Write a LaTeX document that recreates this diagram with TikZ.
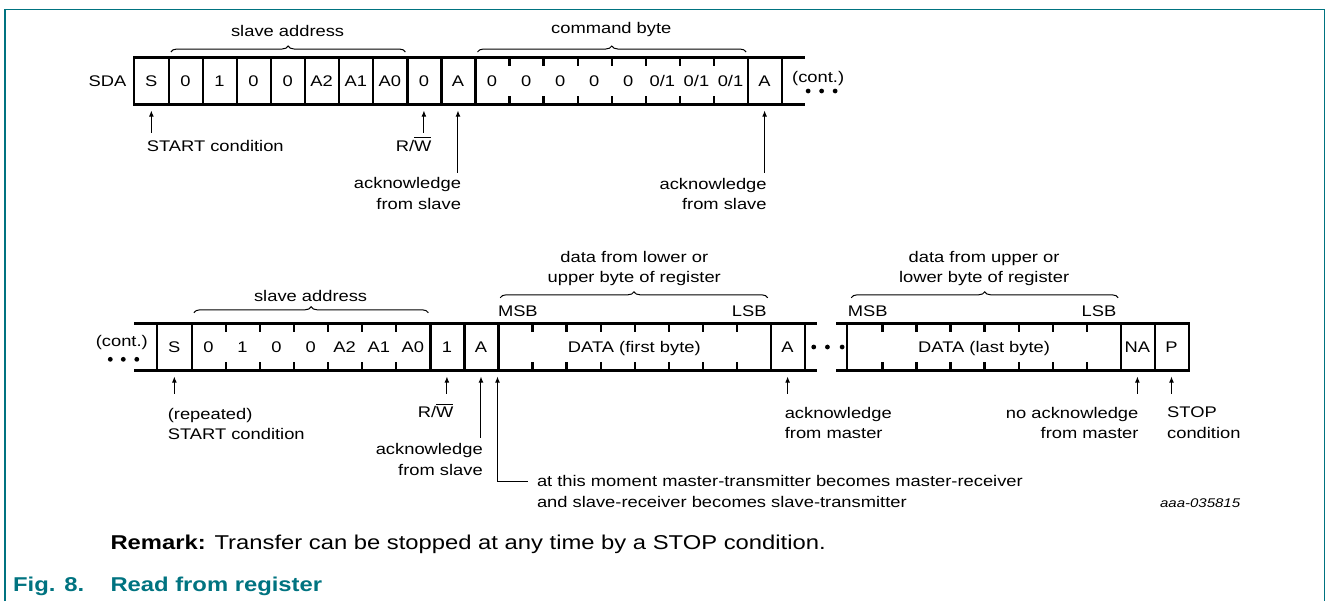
\documentclass[tikz,border=0pt]{standalone}
\usepackage{fontspec}
\setmainfont[FakeStretch=1.19]{Liberation Sans}
\usepackage{tikz}
\usetikzlibrary{calc,arrows.meta,decorations.pathreplacing,positioning}
\definecolor{figteal}{RGB}{0,115,128}

\begin{document}
\begin{tikzpicture}[x=0.5pt,y=-0.5pt,line width=0.5pt]
\fontsize{7.7}{10.2}\selectfont
\tikzstyle{txt}=[inner sep=0pt, text height=5.5pt, text depth=0pt]
\tikzstyle{cell}=[txt, minimum width=17.035pt, minimum height=23pt]
\tikzstyle{wire}=[line width=1.15pt, line cap=rect]
\tikzstyle{pin}=[-{Latex[length=3pt,width=2.4pt]}]
\tikzstyle{brc}=[decorate, decoration={brace,amplitude=3pt}]
\tikzstyle{note}=[inner sep=0pt]
\useasboundingbox (0,0) rectangle (1326,601);
\draw[figteal, line width=0.75pt] (5,601) -- (5,9.3) -- (1324.7,9.3) -- (1324.7,601);

\foreach \lab [count=\i] in {S,0,1,0,0,A2,A1,A0,0,A,0,0,0,0,0,{0/1},{0/1},{0/1},A}
    \node[cell] (t\i) at (117.265+34.07*\i,81) {\lab};
\draw[wire] (t1.north west) -- ($(t19.north east)+(22,0)$) (t1.south west) -- ($(t19.south east)+(22,0)$);
\draw[wire] (t1.north west) -- (t1.south west);
\foreach \i in {1,2,3,4,5,6,7,8,9,10,18,19}
    \draw[wire] (t\i.north east) -- (t\i.south east);
\foreach \i in {11,...,17}
    \draw[wire] (t\i.north east) -- ++(0,7) (t\i.south east) -- ++(0,-7);
\node[txt, left=3.5pt of t1] (sda) {SDA};
\node[txt] (cont1) at ($(t19.east)+(36,-4)$) {(cont.)};
\foreach \d in {-10,3.5,17}
    \fill ($(cont1)+(\d,14)$) circle (1.2pt);

\draw[brc] ($(t2.north west)+(3,-5.5)$) -- ($(t8.north east)+(-2,-5.5)$);
\node[txt] (sa1) at ($(t2.north west)!0.5!(t8.north east)+(0,-27)$) {slave address};
\draw[brc] ($(t11.north west)+(3,-5.5)$) -- ($(t18.north east)+(-2,-5.5)$);
\node[txt] (cb1) at ($(t11.north west)!0.5!(t18.north east)+(0,-30)$) {command byte};

\foreach \i/\len in {1/28,9/28,10/68,19/68}
    \draw[pin] ($(t\i.south)+(0,\len)$) -- ($(t\i.south)+(0,6)$);
\node[note, anchor=base west] (st1) at ($(t1.south)+(-5,46.5)$) {START condition};
\node[note, anchor=base east] (rw1) at ($(t9.south)+(8,46.5)$) {R/$\overline{\mbox{W}}$};
\node[note, anchor=north east, align=right] (ak1) at ($(t10.south)+(3.5,72.5)$) {acknowledge\\from slave};
\node[note, anchor=north east, align=right] (ak2) at ($(t19.south)+(2.5,73)$) {acknowledge\\from slave};

\foreach \lab [count=\i] in {S,0,1,0,0,A2,A1,A0,1,A,{},{},{},{},{},{},{},{},A}
    \node[cell] (b\i) at (140.265+34.07*\i,347) {\lab};
\node[txt] (d1) at ($(b11)!0.5!(b18)$) {DATA (first byte)};
\foreach \lab [count=\i] in {{},{},{},{},{},{},{},{},NA,P}
    \node[cell] (e\i) at (830.765+34.07*\i,347) {\lab};
\node[txt] (d2) at ($(e1)!0.5!(e8)$) {DATA (last byte)};
\draw[wire] ($(b1.north west)+(-22,0)$) -- ($(b19.north east)+(10.5,0)$) ($(b1.south west)+(-22,0)$) -- ($(b19.south east)+(10.5,0)$);
\draw[wire] ($(e1.north west)+(-10.5,0)$) -- (e10.north east) -- (e10.south east) -- ($(e1.south west)+(-10.5,0)$);
\draw[wire] (b1.north west) -- (b1.south west) (e1.north west) -- (e1.south west);
\foreach \i in {1,8,9,10,18,19}
    \draw[wire] (b\i.north east) -- (b\i.south east);
\foreach \i in {2,3,4,5,6,7,11,12,13,14,15,16,17}
    \draw[wire] (b\i.north east) -- ++(0,7) (b\i.south east) -- ++(0,-7);
\foreach \i in {8,9}
    \draw[wire] (e\i.north east) -- (e\i.south east);
\foreach \i in {1,...,7}
    \draw[wire] (e\i.north east) -- ++(0,7) (e\i.south east) -- ++(0,-7);
\node[txt] (cont2) at ($(b1.west)+(-35,-6.5)$) {(cont.)};
\foreach \d in {-11.5,1.5,15}
    \fill ($(cont2)+(\d,18.8)$) circle (1.2pt);
\foreach \d in {8.6,22.3,37}
    \fill ($(b19.east)+(\d,0)$) circle (1.2pt);

\draw[brc] ($(b2.north west)+(3,-10.7)$) -- ($(b8.north east)+(-2,-10.7)$);
\node[txt] (sa2) at ($(b2.north west)!0.5!(b8.north east)+(0,-27.3)$) {slave address};
\draw[brc] ($(b11.north west)+(2.7,-25.7)$) -- ($(b18.north east)+(-3.3,-25.7)$);
\node[note, align=center, anchor=north] (db1) at ($(b11.north west)!0.5!(b18.north east)+(0,-72.8)$) {data from lower or\\upper byte of register};
\node[txt, anchor=west] (msb1) at ($(b11.north west)+(0,-12.3)$) {MSB};
\node[txt, anchor=east] (lsb1) at ($(b18.north east)+(-4,-12.3)$) {LSB};
\draw[brc] ($(e1.north west)+(3.9,-25.7)$) -- ($(e8.north east)+(-2.7,-25.7)$);
\node[note, align=center, anchor=north] (db2) at ($(e1.north west)!0.5!(e8.north east)+(0,-72.8)$) {data from upper or\\lower byte of register};
\node[txt, anchor=west] (msb2) at ($(e1.north west)+(0,-12.3)$) {MSB};
\node[txt, anchor=east] (lsb2) at ($(e8.north east)+(-4,-12.3)$) {LSB};

\foreach \n/\len in {b1/23,b9/23,b10/67,b19/23,e9/23,e10/23}
    \draw[pin] ($(\n.south)+(0,\len)$) -- ($(\n.south)+(0,6)$);
\node[note, anchor=north west, align=left] (st2) at ($(b1.south)+(-7,37.2)$) {(repeated)\\START condition};
\node[note, anchor=base east] (rw2) at ($(b9.south)+(7,47.2)$) {R/$\overline{\mbox{W}}$};
\node[note, anchor=north east, align=right] (ak3) at ($(b10.south)+(2.3,72.8)$) {acknowledge\\from slave};
\node[note, anchor=north west, align=left] (mom) at ($(b11.south west)+(39,104.5)$) {at this moment master-transmitter becomes master-receiver\\and slave-receiver becomes slave-transmitter};
\draw[pin] ($(mom.north west)+(-9,6.5)$) -| ($(b11.south west)+(0,6)$);
\node[note, anchor=north west, align=left] (ak4) at ($(b19.south)+(-3.3,36.2)$) {acknowledge\\from master};
\node[note, anchor=north east, align=right] (nak) at ($(e9.south)+(1.5,36.2)$) {no acknowledge\\from master};
\node[note, anchor=north west, align=left] (stp) at ($(e10.south)+(-4.8,36.2)$) {STOP\\condition};

\node[note, anchor=base east, font=\fontsize{6.3}{7}\selectfont\itshape] (fid) at (1240.6,507.5) {aaa-035815};
\node[note, anchor=base west, font=\fontsize{10}{12}\selectfont] (rmk) at (110,549.2) {\textbf{Remark:} Transfer can be stopped at any time by a STOP condition.};
\node[note, anchor=base west, font=\fontsize{10}{12}\selectfont\bfseries, text=figteal] (fig) at (12.7,591.3) {Fig. 8.};
\node[note, anchor=base west, font=\fontsize{10}{12}\selectfont\bfseries, text=figteal] (figt) at (110,591.3) {Read from register};
\end{tikzpicture}
\end{document}
